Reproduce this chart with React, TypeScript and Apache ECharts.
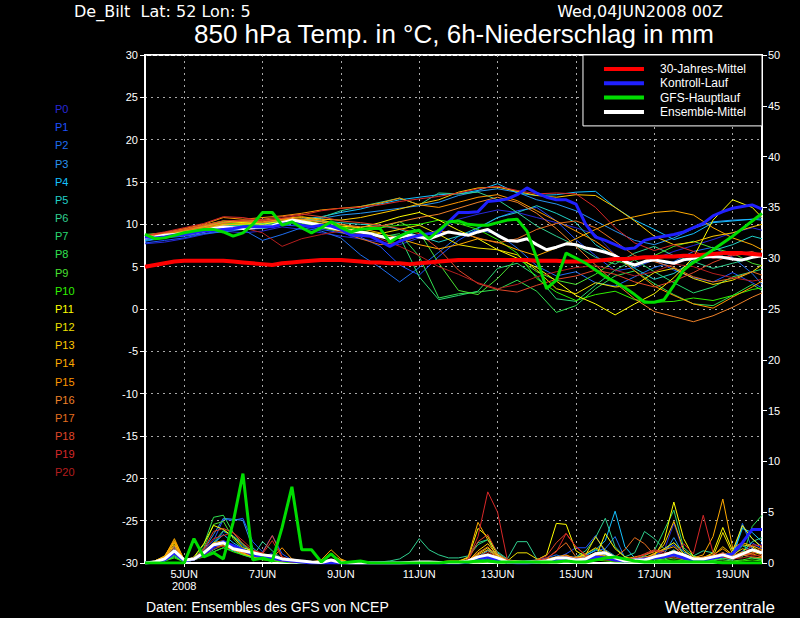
import React, { useEffect, useRef } from "react";
import * as echarts from "echarts";

const FONT = "'Liberation Sans', Arial, sans-serif";
const FONT_WIDE = "'DejaVu Sans', 'Liberation Sans', sans-serif";

// ---- time axis (6-hourly steps, 4JUN 00Z .. 19JUN 18Z) ----
const DAYS = ["4JUN", "5JUN", "6JUN", "7JUN", "8JUN", "9JUN", "10JUN", "11JUN", "12JUN", "13JUN", "14JUN", "15JUN", "16JUN", "17JUN", "18JUN", "19JUN"];
const HOURS = ["00Z", "06Z", "12Z", "18Z"];
const TIMES: string[] = [];
DAYS.forEach((d) => HOURS.forEach((h) => TIMES.push(d + " " + h)));
const YEAR_LABEL = "2008";

// members are read at 12-hourly resolution (category index of each point)
const MEMBER_STEPS = [0, 2, 4, 6, 8, 10, 12, 14, 16, 18, 20, 22, 24, 26, 28, 30, 32, 34, 36, 38, 40, 42, 44, 46, 48, 50, 52, 54, 56, 58, 60, 62, 63];

const MEMBER_NAMES = ["P0", "P1", "P2", "P3", "P4", "P5", "P6", "P7", "P8", "P9", "P10", "P11", "P12", "P13", "P14", "P15", "P16", "P17", "P18", "P19", "P20"];
const MEMBER_COLORS = ["#2828d8", "#1e50ff", "#1e6ef0", "#2894f0", "#14c0ff", "#20d0c8", "#30d090", "#28d870", "#30e050", "#48e030", "#30f000", "#ffff00", "#f0e000", "#ffc800", "#ffaa00", "#ff9600", "#f08228", "#e66e1e", "#e04628", "#d82828", "#b41e1e"];

// ---- 850 hPa temperature, ensemble members (°C) ----
const T_P0 = [7.7, 7.9, 8.3, 8.8, 9.2, 9.0, 9.2, 9.7, 9.4, 9.0, 8.6, 8.3, 7.9, 7.6, 8.4, 9.4, 10.6, 11.2, 11.7, 11.4, 10.8, 10.2, 9.6, 8.8, 6.4, 5.2, 5.9, 6.8, 7.5, 8.2, 9.0, 9.6, 9.3];
const T_P1 = [7.8, 8.1, 8.4, 8.9, 9.3, 9.4, 9.5, 9.9, 9.8, 9.4, 9.0, 8.5, 7.4, 5.2, 4.0, 6.2, 8.1, 9.5, 10.8, 11.6, 12.0, 10.4, 8.2, 6.3, 4.5, 4.9, 5.8, 4.6, 3.7, 3.2, 4.3, 3.1, 2.5];
const T_P2 = [8.0, 8.4, 8.6, 8.9, 9.1, 9.4, 8.1, 8.8, 9.6, 9.2, 8.4, 6.4, 4.9, 3.2, 4.9, 6.7, 8.6, 9.3, 8.9, 7.2, 5.1, 3.9, 4.4, 3.1, 2.7, 3.8, 4.9, 5.6, 6.8, 7.3, 6.1, 4.2, 2.9];
const T_P3 = [8.2, 8.5, 8.7, 9.1, 9.5, 9.7, 9.9, 10.2, 10.5, 10.7, 11.1, 11.3, 11.6, 11.9, 12.2, 12.6, 13.4, 13.9, 14.2, 13.8, 12.9, 12.4, 11.6, 10.4, 9.2, 8.1, 7.6, 8.4, 9.5, 10.3, 10.5, 10.6, 10.8];
const T_P4 = [8.1, 8.4, 8.8, 9.3, 9.8, 10.0, 10.1, 10.4, 10.6, 10.9, 11.4, 11.8, 12.4, 12.9, 13.2, 13.5, 13.6, 14.0, 14.8, 13.7, 13.4, 13.5, 13.8, 13.9, 12.0, 10.5, 9.4, 8.2, 8.9, 10.2, 10.4, 10.6, 10.5];
const T_P5 = [8.4, 8.7, 9.0, 9.3, 9.7, 9.9, 10.1, 10.4, 10.6, 10.4, 10.2, 10.0, 9.9, 9.4, 8.6, 7.9, 8.6, 9.6, 10.8, 11.4, 12.2, 11.3, 10.2, 7.6, 6.2, 4.8, 3.5, 4.2, 5.7, 6.9, 7.6, 8.6, 8.3];
const T_P6 = [8.6, 8.9, 9.2, 9.5, 9.9, 9.8, 9.5, 9.9, 10.3, 10.8, 11.6, 12.1, 12.6, 13.1, 12.3, 13.7, 13.6, 13.8, 12.9, 11.4, 9.8, 8.6, 7.5, 6.1, 5.3, 6.6, 7.4, 6.3, 5.6, 4.8, 5.4, 6.0, 6.6];
const T_P7 = [8.5, 8.8, 9.1, 9.6, 10.0, 9.9, 10.1, 10.4, 10.2, 9.6, 9.1, 8.8, 8.7, 8.6, 3.8, 1.1, 1.6, 2.1, 4.8, 5.4, 3.9, 1.2, 0.9, 2.8, 4.6, 5.8, 4.4, 3.1, 1.9, 2.6, 3.8, 4.4, 4.7];
const T_P8 = [8.7, 8.9, 9.3, 9.8, 10.3, 10.1, 10.0, 10.3, 10.5, 10.0, 9.4, 8.9, 8.5, 8.9, 6.2, 1.3, 1.8, 2.0, 2.3, 3.4, 2.1, -0.4, 0.4, 2.4, 3.9, 4.5, 3.0, 1.7, 0.6, 0.4, 1.6, 2.9, 2.2];
const T_P9 = [8.8, 9.0, 9.4, 9.7, 10.1, 10.2, 10.2, 10.3, 10.1, 9.6, 9.2, 9.0, 9.6, 10.3, 9.1, 5.4, 2.2, 1.7, 3.6, 6.0, 4.4, 3.4, 2.9, 4.1, 5.7, 5.1, 6.3, 7.4, 8.0, 7.2, 6.6, 5.4, 5.1];
const T_P10 = [8.6, 8.8, 9.2, 9.7, 10.2, 10.0, 9.8, 10.1, 10.2, 9.9, 9.7, 9.4, 9.6, 9.9, 10.0, 10.5, 10.1, 9.4, 8.2, 6.6, 3.6, 2.0, 1.0, 1.7, 2.1, 1.1, 0.8, 0.9, 1.3, 1.0, 1.6, 2.3, 2.5];
const T_P11 = [8.7, 9.0, 9.4, 9.9, 10.4, 10.2, 10.0, 10.4, 10.6, 10.3, 9.8, 9.6, 10.2, 10.9, 11.4, 10.5, 9.3, 8.3, 7.0, 6.0, 4.9, 3.3, 1.6, 0.6, -0.7, 0.6, 1.8, 3.7, 6.1, 10.5, 12.9, 12.0, 10.8];
const T_P12 = [8.4, 8.8, 9.2, 9.6, 10.0, 10.0, 10.2, 10.6, 10.5, 10.1, 9.6, 9.2, 8.9, 9.4, 9.9, 8.8, 7.6, 7.2, 7.0, 6.4, 4.6, 2.4, 1.8, 3.1, 2.6, 2.8, 4.3, 4.8, 3.6, 2.9, 3.4, 4.4, 5.2];
const T_P13 = [8.5, 8.9, 9.3, 9.7, 10.2, 10.3, 10.4, 10.7, 10.9, 10.6, 10.5, 10.8, 11.3, 11.8, 12.4, 12.9, 13.8, 14.3, 14.4, 13.9, 13.4, 13.2, 13.5, 13.4, 12.0, 10.4, 8.6, 7.6, 7.9, 8.6, 9.0, 9.7, 10.0];
const T_P14 = [8.3, 8.7, 9.1, 9.5, 9.9, 10.1, 10.3, 10.6, 10.8, 10.5, 10.0, 9.5, 9.0, 8.3, 7.6, 7.1, 7.6, 8.3, 7.9, 7.0, 6.3, 7.2, 8.3, 9.4, 10.4, 10.9, 11.4, 11.6, 11.1, 9.6, 8.4, 7.6, 7.0];
const T_P15 = [8.6, 9.0, 9.5, 10.0, 10.8, 10.6, 10.8, 11.0, 11.3, 11.7, 11.9, 12.1, 12.5, 13.1, 12.3, 12.0, 12.6, 13.2, 13.5, 12.8, 11.6, 10.4, 9.2, 8.0, 6.4, 4.5, 2.7, 1.6, 0.6, 0.1, 1.4, 2.6, 3.3];
const T_P16 = [8.4, 8.8, 9.3, 9.8, 10.2, 10.4, 10.5, 10.7, 10.6, 10.3, 10.0, 9.7, 9.8, 10.3, 10.8, 11.2, 11.9, 12.6, 13.2, 12.6, 11.3, 9.5, 7.4, 5.2, 3.1, 1.2, -0.3, -0.9, -1.5, -0.8, 0.2, 1.4, 1.9];
const T_P17 = [8.5, 8.9, 9.3, 9.6, 10.1, 10.4, 10.2, 10.5, 10.4, 9.8, 9.1, 8.3, 7.6, 7.9, 8.6, 9.2, 9.0, 8.4, 7.8, 8.3, 9.4, 10.1, 10.4, 9.6, 8.0, 6.3, 5.6, 4.9, 3.8, 3.2, 3.6, 4.4, 4.0];
const T_P18 = [8.6, 9.0, 9.4, 9.9, 10.4, 10.5, 10.6, 10.9, 11.2, 10.9, 10.4, 10.2, 9.9, 9.5, 8.9, 7.1, 4.6, 3.0, 2.3, 2.0, 2.8, 3.5, 3.9, 4.6, 4.1, 3.2, 2.6, 3.3, 4.3, 5.5, 6.4, 6.8, 6.3];
const T_P19 = [8.7, 9.1, 9.6, 10.1, 10.9, 10.8, 10.4, 10.7, 11.1, 11.6, 11.9, 12.0, 12.3, 12.7, 13.0, 13.3, 13.7, 14.2, 14.5, 14.0, 13.6, 13.7, 13.6, 12.0, 9.6, 7.8, 6.9, 7.6, 6.8, 6.0, 6.3, 6.6, 6.2];
const T_P20 = [8.4, 8.6, 9.0, 9.4, 9.8, 9.6, 9.0, 7.4, 8.3, 8.8, 9.2, 8.9, 8.3, 7.4, 6.3, 5.0, 4.1, 3.1, 2.4, 2.9, 3.8, 4.4, 4.9, 5.1, 4.6, 3.9, 4.4, 5.3, 5.0, 4.2, 3.7, 3.3, 3.5];
const T_MEMBERS = [T_P0, T_P1, T_P2, T_P3, T_P4, T_P5, T_P6, T_P7, T_P8, T_P9, T_P10, T_P11, T_P12, T_P13, T_P14, T_P15, T_P16, T_P17, T_P18, T_P19, T_P20];

// ---- 6h precipitation, ensemble members (mm) ----
const R_P0 = [0, 0.1, 0.3, 0.8, 0.1, 0.4, 0.9, 1.6, 2.0, 1.4, 1.1, 0.7, 0.5, 1.0, 0.3, 0.2, 0.1, 0, 0, 0.1, 0, 0, 0, 0, 0, 0, 0, 0, 0, 0, 0, 0, 0, 0, 0.2, 0.4, 0.3, 0, 0, 0.1, 0.1, 0.3, 0.4, 0.5, 0.3, 0.4, 0.7, 0.9, 0.4, 0.2, 0.3, 0.4, 0.6, 1.2, 3.9, 1.1, 0.3, 0.1, 0.3, 0.6, 0.4, 1.2, 1.6, 1.8];
const R_P1 = [0, 0.1, 0.4, 1.0, 0.2, 0.5, 1.2, 2.2, 4.3, 4.2, 4.4, 2.1, 1.1, 2.7, 0.9, 0.3, 0.2, 0.1, 0, 0, 0, 0, 0, 0, 0, 0, 0, 0, 0, 0, 0, 0, 0, 0.1, 0.3, 0.6, 0.5, 0.2, 0, 0, 0.1, 0.2, 0.5, 0.9, 1.5, 1.5, 2.7, 1.0, 0.4, 0.2, 0.4, 0.6, 0.7, 1.3, 1.8, 0.6, 0.4, 0.3, 0.7, 0.5, 0.3, 1.1, 2.0, 1.4];
const R_P2 = [0, 0.1, 0.3, 1.2, 0.2, 0.3, 0.8, 1.8, 3.1, 2.7, 1.7, 0.9, 0.6, 0.8, 0.4, 0.2, 0.1, 0, 0, 0, 0, 0, 0, 0, 0, 0, 0, 0, 0, 0, 0, 0, 0, 0, 0.1, 0.2, 0.4, 0.1, 0, 0.2, 0.3, 0.5, 0.8, 0.5, 0.6, 0.8, 1.2, 1.4, 2.6, 0.5, 0.2, 0.3, 0.5, 0.7, 1.0, 0.5, 0.2, 0.3, 0.6, 0.5, 0.3, 3.9, 1.4, 0.8];
const R_P3 = [0, 0.2, 0.6, 1.6, 0.2, 0.4, 1.3, 2.8, 4.4, 4.3, 4.2, 1.5, 0.7, 0.6, 0.3, 0.1, 0, 0, 0, 0, 0, 0, 0, 0, 0, 0, 0, 0, 0, 0, 0, 0, 0, 0, 0.2, 0.5, 0.3, 0.1, 0, 0, 0, 0.1, 0.2, 0.4, 0.2, 0.3, 0.6, 1.3, 0.7, 0.3, 0.2, 0.4, 0.6, 0.9, 2.5, 0.8, 0.5, 0.2, 0.4, 0.7, 1.0, 3.6, 2.4, 1.6];
const R_P4 = [0, 0.1, 0.5, 1.4, 0.1, 0.3, 0.9, 1.9, 2.8, 2.0, 1.4, 0.7, 0.5, 0.4, 0.3, 0.2, 0.1, 0, 0, 0, 0, 0, 0, 0, 0, 0, 0, 0, 0, 0, 0, 0, 0, 0.1, 0.6, 1.2, 0.8, 0.2, 0, 0, 0.1, 0.2, 0.3, 0.5, 0.4, 0.7, 1.3, 2.2, 5.1, 1.6, 0.5, 0.3, 0.4, 0.6, 1.0, 0.5, 0.3, 0.2, 0.5, 1.0, 0.7, 3.4, 3.0, 2.1];
const R_P5 = [0, 0.1, 0.4, 1.1, 0.1, 0.3, 0.7, 1.1, 1.5, 1.2, 0.8, 0.5, 0.4, 0.3, 0.2, 0.1, 0, 0, 0, 0, 0, 0, 0, 0, 0, 0, 0, 0, 0, 0, 0, 0, 0, 0.1, 0.5, 1.3, 1.0, 0.3, 0, 0, 0, 0.1, 0.2, 0.4, 0.3, 0.5, 1.0, 0.7, 0.4, 0.3, 0.2, 0.4, 0.5, 0.8, 1.3, 0.6, 0.2, 0.1, 0.4, 0.8, 0.6, 1.7, 1.2, 0.9];
const R_P6 = [0, 0.1, 0.3, 0.9, 0.1, 0.3, 0.7, 1.3, 1.8, 1.4, 1.0, 0.6, 2.1, 1.2, 0.4, 0.2, 0.1, 0, 0, 0.1, 0, 0, 0, 0, 0.1, 0.2, 0.4, 1.0, 2.4, 1.3, 0.8, 0.5, 0.5, 0.7, 2.0, 2.3, 1.1, 0.4, 2.1, 2.1, 0.4, 0.2, 0.3, 0.4, 0.6, 1.2, 2.5, 4.4, 1.6, 0.6, 1.0, 3.1, 2.4, 1.4, 2.0, 1.1, 0.7, 1.2, 1.0, 0.6, 0.4, 1.1, 2.1, 2.5];
const R_P7 = [0, 0.1, 0.2, 0.7, 0.1, 0.3, 0.9, 2.0, 3.2, 2.6, 1.9, 1.0, 0.7, 0.6, 0.3, 0.1, 0, 0, 0, 0, 0, 0, 0, 0, 0, 0, 0, 0, 0, 0, 0, 0, 0.1, 0.6, 1.8, 2.3, 0.9, 0.3, 0.1, 0, 0, 0.1, 0.2, 0.4, 0.5, 0.9, 1.4, 0.8, 0.5, 0.2, 0.4, 0.7, 1.2, 3.2, 5.2, 1.5, 0.7, 0.3, 0.2, 0.5, 0.3, 0.8, 0.5, 0.3];
const R_P8 = [0, 0.1, 0.2, 0.6, 0.1, 0.5, 1.8, 4.5, 4.7, 3.0, 1.8, 1.0, 0.5, 0.4, 0.2, 0.1, 0, 0, 0, 0, 0, 0, 0, 0, 0, 0, 0, 0, 0, 0, 0, 0, 0, 0, 0.1, 0.3, 0.2, 0, 0, 0, 0, 0, 0.1, 0.3, 0.2, 0.3, 0.6, 0.5, 0.3, 0.1, 0.2, 0.3, 0.4, 0.4, 0.7, 0.3, 0.2, 0.2, 0.3, 0.4, 0.5, 0.6, 3.6, 4.7];
const R_P9 = [0, 0.1, 0.2, 0.8, 0.1, 0.4, 1.5, 3.8, 4.1, 2.4, 1.3, 0.9, 0.5, 0.3, 0.2, 0.1, 0, 0, 0, 0, 0, 0, 0, 0, 0, 0, 0, 0, 0, 0, 0, 0, 0, 0, 0.1, 0.2, 0.1, 0, 0, 0, 0, 0.1, 0.1, 0.2, 0.2, 0.3, 0.5, 0.3, 0.2, 0.1, 0.2, 0.3, 0.4, 0.3, 0.5, 0.3, 0.2, 0.2, 0.3, 0.3, 0.2, 0.3, 0.5, 0.4];
const R_P10 = [0, 0.1, 0.2, 0.5, 0.1, 0.3, 0.6, 1.1, 1.5, 1.1, 0.8, 0.5, 0.3, 0.2, 0.1, 0, 0, 0, 0, 0, 0, 0, 0, 0, 0, 0, 0, 0, 0, 0, 0, 0, 0, 0, 0, 0.1, 0, 0, 0, 0, 0, 0, 0.1, 0.2, 0.1, 0.2, 0.3, 0.2, 0.1, 0.1, 0.1, 0.2, 0.3, 0.2, 0.3, 0.2, 0.1, 0.1, 0.2, 0.1, 0.1, 0.2, 0.3, 0.2];
const R_P11 = [0, 0.2, 0.6, 2.0, 0.2, 0.6, 1.9, 3.7, 3.3, 2.6, 1.5, 1.2, 0.9, 0.7, 0.4, 0.2, 0.1, 0, 0, 0, 0, 0, 0, 0, 0, 0, 0, 0, 0, 0, 0.1, 0.2, 0.2, 0.5, 3.4, 2.6, 0.8, 0.3, 0.2, 0.1, 0.3, 0.8, 3.9, 3.8, 1.2, 0.6, 0.5, 2.9, 1.4, 0.6, 0.3, 0.4, 0.7, 2.2, 6.0, 2.4, 0.6, 0.5, 1.0, 3.5, 1.2, 3.7, 2.4, 1.5];
const R_P12 = [0, 0.2, 0.5, 1.8, 0.2, 0.4, 1.0, 1.9, 1.7, 1.3, 0.9, 0.6, 0.5, 0.4, 0.2, 0.1, 0, 0, 0, 0.1, 0, 0, 0, 0, 0, 0, 0, 0, 0, 0, 0, 0, 0.1, 0.2, 0.9, 1.5, 0.6, 0.2, 1.0, 1.0, 0.4, 0.2, 0.4, 0.6, 0.5, 0.8, 2.6, 1.2, 0.6, 0.3, 0.4, 0.5, 0.9, 1.4, 2.0, 0.9, 0.4, 0.3, 0.6, 3.0, 0.9, 1.8, 1.6, 1.0];
const R_P13 = [0, 0.2, 0.7, 2.2, 0.3, 0.5, 1.1, 1.8, 1.9, 1.5, 1.0, 0.7, 0.6, 0.4, 0.3, 0.2, 0.2, 0.1, 0.2, 0.8, 0.3, 0, 0, 0, 0, 0, 0, 0, 0, 0, 0, 0, 0, 0.2, 1.2, 1.9, 0.7, 0.2, 0, 0, 0.1, 0.1, 0.4, 0.7, 0.5, 0.9, 1.5, 1.0, 0.5, 0.2, 0.3, 0.5, 0.9, 1.8, 4.1, 1.3, 0.5, 0.4, 0.7, 1.6, 0.8, 1.4, 1.1, 0.8];
const R_P14 = [0, 0.2, 0.6, 2.4, 0.3, 0.5, 1.1, 2.0, 2.2, 1.6, 1.3, 1.1, 0.9, 0.7, 0.5, 0.3, 0.2, 0.1, 0.3, 1.3, 0.4, 0, 0, 0, 0, 0, 0, 0, 0, 0, 0, 0, 0.1, 0.6, 4.0, 2.3, 0.5, 0.1, 0, 0, 0.1, 0.3, 0.5, 0.6, 0.4, 0.6, 1.0, 0.7, 0.4, 0.4, 0.6, 0.8, 1.1, 1.3, 1.6, 0.8, 0.5, 0.8, 2.6, 6.3, 1.5, 2.0, 1.7, 1.3];
const R_P15 = [0, 0.2, 0.5, 2.1, 0.2, 0.4, 0.9, 1.6, 1.7, 1.3, 1.0, 0.7, 0.6, 0.5, 1.5, 0.4, 0.2, 0.1, 0.1, 0.9, 0.2, 0, 0, 0, 0, 0, 0, 0, 0, 0, 0, 0, 0, 0.2, 0.8, 1.3, 0.5, 0.1, 0, 0, 0.2, 0.4, 0.6, 0.8, 0.4, 0.5, 0.9, 0.6, 0.4, 0.3, 0.4, 0.6, 0.7, 0.9, 1.2, 0.6, 0.4, 0.6, 0.8, 1.4, 0.7, 1.1, 0.9, 0.6];
const R_P16 = [0, 0.1, 0.4, 1.7, 0.2, 0.4, 0.8, 1.6, 1.9, 1.4, 1.1, 0.8, 0.6, 0.5, 0.3, 0.2, 0.1, 0, 0, 0.2, 0, 0, 0, 0, 0, 0, 0, 0, 0, 0, 0, 0, 0, 0.1, 0.4, 0.9, 0.4, 0.1, 0, 0, 0.1, 0.2, 0.4, 0.7, 0.5, 0.6, 0.8, 0.5, 0.3, 0.2, 0.3, 0.4, 0.5, 0.7, 0.9, 0.5, 0.3, 0.4, 0.6, 0.9, 0.5, 0.8, 0.6, 0.5];
const R_P17 = [0, 0.1, 0.4, 1.5, 0.2, 0.4, 0.9, 1.8, 2.0, 1.6, 1.2, 0.8, 0.6, 0.4, 0.2, 0.1, 0.1, 0, 0, 0.1, 0, 0, 0, 0, 0, 0, 0, 0, 0, 0, 0, 0, 0, 0.2, 1.0, 1.6, 0.6, 0.2, 0, 0, 0.2, 0.4, 1.2, 2.0, 0.6, 0.4, 0.6, 0.5, 0.6, 1.3, 2.5, 1.9, 0.8, 0.5, 0.7, 0.4, 0.3, 0.4, 0.6, 1.0, 0.6, 0.8, 1.0, 1.2];
const R_P18 = [0, 0.1, 0.3, 1.3, 0.2, 0.4, 1.4, 3.1, 3.4, 3.0, 1.9, 1.2, 1.0, 2.7, 0.6, 0.3, 0.1, 0, 0, 0.1, 0, 0, 0, 0, 0, 0, 0, 0, 0, 0, 0, 0, 0, 0.3, 2.1, 2.8, 0.9, 0.3, 0.1, 0, 0.3, 0.7, 2.0, 2.9, 1.6, 0.8, 0.5, 0.4, 0.3, 0.3, 0.5, 0.9, 1.3, 1.1, 0.8, 0.6, 0.4, 0.5, 0.7, 1.0, 0.6, 0.9, 0.8, 1.6];
const R_P19 = [0, 0.1, 0.3, 1.0, 0.2, 0.5, 1.3, 2.4, 2.7, 3.0, 2.2, 1.3, 0.9, 2.2, 0.5, 0.3, 0.1, 0, 0, 0.2, 0, 0, 0, 0, 0, 0, 0, 0, 0, 0, 0, 0, 0, 0.4, 2.6, 7.0, 5.0, 0.3, 0.1, 0, 0.2, 0.5, 1.1, 2.9, 1.6, 0.7, 0.5, 0.4, 0.2, 0.3, 0.5, 0.8, 1.2, 0.9, 0.7, 1.9, 0.9, 4.7, 1.0, 0.6, 0.4, 0.7, 1.8, 1.7];
const R_P20 = [0, 0.1, 0.2, 0.9, 0.1, 0.3, 0.7, 1.4, 1.7, 1.4, 1.1, 0.7, 0.5, 0.4, 0.2, 0.1, 0, 0, 0, 0, 0, 0, 0, 0, 0, 0, 0, 0, 0, 0, 0, 0, 0, 0.1, 0.6, 1.1, 0.5, 0.1, 0, 0, 0.1, 0.2, 0.4, 0.6, 0.4, 0.3, 0.5, 0.3, 0.2, 0.2, 0.3, 0.5, 0.7, 0.6, 0.5, 0.4, 0.3, 0.3, 0.5, 0.6, 0.4, 0.5, 0.7, 0.8];
const R_MEMBERS = [R_P0, R_P1, R_P2, R_P3, R_P4, R_P5, R_P6, R_P7, R_P8, R_P9, R_P10, R_P11, R_P12, R_P13, R_P14, R_P15, R_P16, R_P17, R_P18, R_P19, R_P20];

// ---- highlighted runs, 6-hourly ----
const T_CLIMATE = [5.0, 5.2, 5.4, 5.6, 5.7, 5.7, 5.7, 5.7, 5.7, 5.6, 5.5, 5.4, 5.3, 5.2, 5.4, 5.5, 5.6, 5.7, 5.8, 5.8, 5.8, 5.7, 5.6, 5.5, 5.5, 5.4, 5.4, 5.3, 5.4, 5.5, 5.6, 5.7, 5.8, 5.8, 5.8, 5.8, 5.8, 5.8, 5.8, 5.8, 5.7, 5.7, 5.7, 5.6, 5.6, 5.6, 5.7, 5.8, 5.9, 5.9, 6.0, 6.1, 6.1, 6.2, 6.2, 6.3, 6.3, 6.4, 6.5, 6.6, 6.6, 6.6, 6.5, 6.4];
const T_CONTROL = [8.5, 8.4, 8.5, 8.7, 8.8, 9.0, 9.2, 9.3, 9.4, 9.5, 9.7, 9.7, 9.7, 9.7, 10.0, 10.2, 9.9, 9.7, 9.9, 9.8, 9.4, 8.7, 8.7, 8.6, 8.0, 7.4, 8.0, 8.4, 8.7, 8.9, 9.0, 10.3, 11.4, 11.4, 11.5, 12.7, 12.8, 13.0, 13.5, 14.3, 13.7, 13.2, 12.9, 12.9, 12.4, 10.0, 8.5, 8.1, 7.6, 7.1, 7.2, 8.1, 8.4, 8.6, 8.8, 9.1, 9.6, 10.1, 11.0, 11.5, 11.9, 12.1, 12.3, 11.8];
const T_GFS = [8.8, 8.3, 8.4, 8.7, 9.0, 9.2, 9.4, 9.4, 9.1, 8.6, 9.0, 10.0, 11.4, 11.4, 9.9, 10.3, 9.6, 9.0, 9.6, 10.3, 9.6, 9.1, 9.4, 9.5, 9.5, 7.9, 8.6, 9.1, 9.3, 8.3, 9.3, 10.3, 10.4, 10.0, 9.9, 9.9, 10.2, 10.5, 10.6, 9.2, 6.0, 2.4, 3.4, 6.6, 6.0, 5.4, 4.6, 3.8, 3.2, 2.5, 1.7, 0.8, 0.8, 1.1, 2.8, 4.6, 5.5, 6.2, 7.0, 7.8, 8.6, 9.5, 10.4, 11.3];
const T_MEAN = [8.4, 8.5, 8.7, 8.8, 8.9, 9.0, 9.2, 9.5, 9.7, 9.6, 9.5, 9.6, 9.7, 9.8, 10.2, 10.5, 10.3, 10.1, 9.9, 9.6, 9.4, 9.2, 9.1, 8.9, 8.6, 8.3, 8.5, 8.7, 8.5, 8.3, 8.7, 9.1, 8.9, 8.7, 9.1, 9.4, 8.7, 8.1, 8.0, 8.3, 7.6, 7.0, 7.3, 7.7, 7.6, 7.2, 7.0, 6.7, 6.3, 5.6, 5.2, 5.6, 5.8, 5.6, 5.4, 5.8, 6.0, 6.1, 6.2, 6.1, 5.9, 5.8, 6.1, 6.3];

const R_CONTROL = [0, 0.1, 0.3, 1.0, 0.2, 0.4, 0.9, 1.6, 2.1, 1.7, 1.3, 0.8, 0.6, 0.5, 0.3, 0.2, 0.1, 0, 0, 0, 0, 0, 0, 0, 0, 0, 0, 0, 0, 0, 0, 0, 0, 0.1, 0.4, 0.6, 0.3, 0.1, 0, 0, 0.1, 0.2, 0.4, 0.5, 0.3, 0.4, 0.6, 0.5, 0.3, 0.2, 0.3, 0.4, 0.5, 0.6, 0.8, 0.5, 0.3, 0.3, 0.5, 0.7, 0.9, 2.0, 3.3, 3.3];
const R_GFS = [0, 0, 0, 0, 0, 2.4, 0.6, 1.0, 0.4, 4.0, 8.8, 0.3, 0.5, 0.2, 3.5, 7.5, 1.3, 1.3, 0.1, 0.9, 0, 0.1, 0.2, 0, 0, 0, 0, 0, 0, 0, 0, 0.1, 0.1, 0.1, 0.2, 0.2, 0.1, 0.1, 0.1, 0.1, 0.1, 0.1, 0.1, 0.2, 0.1, 0.1, 0.3, 0.5, 0.6, 0.4, 0.2, 0.1, 0.1, 0.1, 0.1, 0.1, 0.1, 0.1, 0.1, 0, 0, 0, 0, 0];
const R_MEAN = [0, 0.1, 0.4, 1.2, 0.3, 0.4, 1.0, 1.8, 2.0, 1.4, 1.2, 1.0, 0.8, 0.7, 0.4, 0.3, 0.2, 0.1, 0.05, 0.3, 0.05, 0, 0, 0, 0, 0, 0, 0.05, 0.1, 0.1, 0.05, 0.05, 0.05, 0.2, 0.6, 0.8, 0.5, 0.1, 0.1, 0.1, 0.1, 0.2, 0.5, 0.5, 0.3, 0.4, 0.9, 1.0, 0.5, 0.2, 0.3, 0.3, 0.6, 0.8, 1.1, 0.8, 0.4, 0.4, 0.6, 0.8, 0.5, 0.9, 1.3, 1.0];

const NAME_CLIMATE = "30-Jahres-Mittel";
const NAME_CONTROL = "Kontroll-Lauf";
const NAME_GFS = "GFS-Hauptlauf";
const NAME_MEAN = "Ensemble-Mittel";

const TITLE_LEFT = "De_Bilt  Lat: 52 Lon: 5";
const TITLE_RIGHT = "Wed,04JUN2008 00Z";
const TITLE_MAIN = "850 hPa Temp. in °C, 6h-Niederschlag in mm";
const FOOT_LEFT = "Daten: Ensembles des GFS von NCEP";
const FOOT_RIGHT = "Wetterzentrale";

const isMajor = (i: number) => i % 8 === 4;

function txt(text: string, x: number, y: number, size: number, color: string, align: string, family: string = FONT) {
  return {
    type: "text",
    x,
    y,
    silent: true,
    style: {
      text,
      fill: color,
      fontSize: size,
      fontFamily: family,
      align,
      textAlign: align,
      verticalAlign: "middle",
      textVerticalAlign: "middle",
    },
  };
}

export default function App() {
  const ref = useRef<HTMLDivElement>(null);

  useEffect(() => {
    if (!ref.current) return;
    const chart = echarts.init(ref.current, null, { renderer: "svg" });

    const series: any[] = [];
    const line = (name: string, color: string, data: any[], yAxisIndex: number, width: number, z: number) => ({
      type: "line",
      name,
      data,
      yAxisIndex,
      symbol: "none",
      showSymbol: false,
      silent: true,
      color,
      lineStyle: { width, color },
      itemStyle: { color },
      z,
      animation: false,
    });

    MEMBER_NAMES.forEach((n, k) => {
      series.push(
        line(n, MEMBER_COLORS[k], MEMBER_STEPS.map((s, j) => [s, T_MEMBERS[k][j]]), 0, 1, 2)
      );
    });
    MEMBER_NAMES.forEach((n, k) => {
      series.push(line(n + " RR", MEMBER_COLORS[k], R_MEMBERS[k], 1, 1, 2));
    });
    series.push(line(NAME_MEAN, "#ffffff", T_MEAN, 0, 3, 3));
    series.push(line(NAME_CLIMATE, "#ff0000", T_CLIMATE, 0, 4, 3));
    series.push(line(NAME_CONTROL, "#2020ff", T_CONTROL, 0, 3, 3));
    series.push(line(NAME_GFS, "#00dd00", T_GFS, 0, 3, 3));
    series.push(line(NAME_CONTROL, "#2020ff", R_CONTROL, 1, 3, 3));
    series.push(line(NAME_MEAN, "#ffffff", R_MEAN, 1, 3, 3));
    series.push(line(NAME_GFS, "#00dd00", R_GFS, 1, 3, 3));

    const graphic: any[] = [
      txt(TITLE_LEFT, 74, 11, 16, "#ffffff", "left", FONT_WIDE),
      txt(TITLE_RIGHT, 723, 11, 16, "#ffffff", "right", FONT_WIDE),
      txt(TITLE_MAIN, 454, 34, 26, "#ffffff", "center"),
      txt(FOOT_LEFT, 146, 607, 14, "#ffffff", "left"),
      txt(FOOT_RIGHT, 775, 607, 17, "#ffffff", "right"),
    ];
    MEMBER_NAMES.forEach((n, k) => {
      graphic.push(txt(n, 55, 109 + k * 18.17, 11, MEMBER_COLORS[k], "left"));
    });

    const gridLine = { show: true, lineStyle: { color: "#a8a8a8", width: 1, type: [2, 4] } };

    chart.setOption({
      animation: false,
      backgroundColor: "#000000",
      textStyle: { fontFamily: FONT },
      grid: {
        left: 145,
        top: 55,
        width: 617,
        height: 508,
        show: true,
        borderColor: "#ffffff",
        borderWidth: 2,
        backgroundColor: "#000000",
        containLabel: false,
      },
      legend: {
        data: [NAME_CLIMATE, NAME_CONTROL, NAME_GFS, NAME_MEAN],
        orient: "vertical",
        right: 38,
        top: 55,
        backgroundColor: "#000000",
        borderColor: "#ffffff",
        borderWidth: 1,
        borderRadius: 0,
        padding: [7, 16, 7, 21],
        itemWidth: 40,
        itemHeight: 4,
        itemGap: 0.3,
        icon: "rect",
        selectedMode: false,
        itemStyle: { borderWidth: 0 },
        textStyle: { color: "#ffffff", fontSize: 12, fontFamily: FONT, lineHeight: 14, padding: [0, 0, 0, 11] },
        z: 10,
      },
      xAxis: {
        type: "category",
        data: TIMES,
        boundaryGap: false,
        axisLine: { show: true, onZero: false, lineStyle: { color: "#ffffff", width: 2 } },
        axisTick: { show: true, interval: (i: number) => isMajor(i), length: 4, lineStyle: { color: "#ffffff", width: 1 } },
        axisLabel: {
          interval: (i: number) => isMajor(i),
          color: "#ffffff",
          fontSize: 11,
          lineHeight: 12,
          margin: 5,
          fontFamily: FONT,
          formatter: (v: string, i: number) => {
            const d = v.split(" ")[0];
            return i === 4 ? d + "\n" + YEAR_LABEL : d;
          },
        },
        splitLine: { ...gridLine, interval: (i: number) => isMajor(i) },
      },
      yAxis: [
        {
          type: "value",
          min: -30,
          max: 30,
          interval: 5,
          position: "left",
          axisLine: { show: true, onZero: false, lineStyle: { color: "#ffffff", width: 2 } },
          axisTick: { show: true, length: 5, lineStyle: { color: "#ffffff", width: 1 } },
          axisLabel: { color: "#ffffff", fontSize: 11, margin: 7, fontFamily: FONT },
          splitLine: gridLine,
        },
        {
          type: "value",
          min: 0,
          max: 50,
          interval: 5,
          position: "right",
          axisLine: { show: true, onZero: false, lineStyle: { color: "#ffffff", width: 2 } },
          axisTick: { show: true, length: 5, lineStyle: { color: "#ffffff", width: 1 } },
          axisLabel: { color: "#ffffff", fontSize: 11, margin: 6, fontFamily: FONT },
          splitLine: { show: false },
        },
      ],
      graphic,
      series,
    });

    return () => chart.dispose();
  }, []);

  return (
    <div
      ref={ref}
      style={{ position: "absolute", left: 0, top: 0, width: 800, height: 618, background: "#000" }}
    />
  );
}
